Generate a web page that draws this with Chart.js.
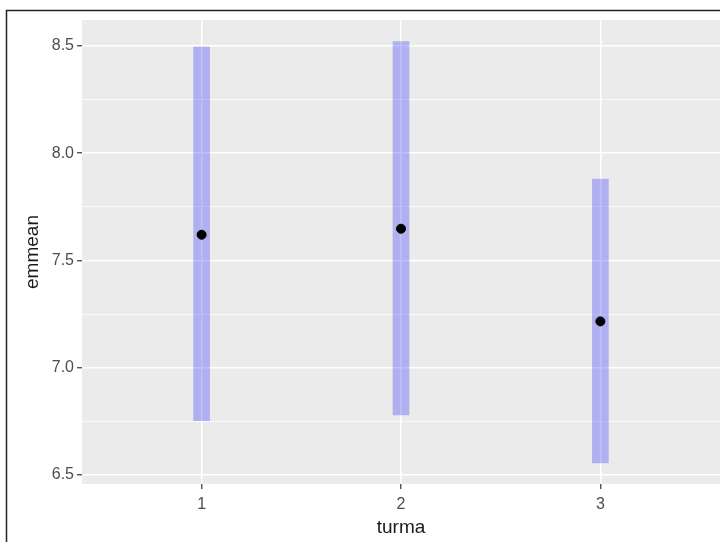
<!DOCTYPE html>
<html>
<head>
<meta charset="utf-8">
<script src="https://cdn.jsdelivr.net/npm/chart.js@4/dist/chart.umd.min.js"></script>
<style>
  html, body { margin: 0; padding: 0; background: #fff; }
  #wrap { width: 720px; height: 542px; position: relative; }
</style>
</head>
<body>
<div id="wrap"><canvas id="emmChart" width="720" height="542"></canvas></div>
<script>
// data
const turma = [1, 2, 3];
const emmean = [7.62, 7.648, 7.216];
const lowerCL = [6.753, 6.78, 6.556];
const upperCL = [8.495, 8.52, 7.879];

const yMajorTicks = [6.5, 7.0, 7.5, 8.0, 8.5];
const yMinorTicks = [6.75, 7.25, 7.75, 8.25];

// grey ggplot panel + outer frame
const panelPlugin = {
    id: "panel",
    beforeDraw(chart) {
        const { ctx, chartArea } = chart;
        ctx.save();
        ctx.fillStyle = "#EBEBEB";
        ctx.fillRect(chartArea.left, chartArea.top, chartArea.right - chartArea.left, chartArea.bottom - chartArea.top);
        ctx.restore();
    },
    afterDraw(chart) {
        const ctx = chart.ctx;
        ctx.save();
        ctx.strokeStyle = "#222";
        ctx.lineWidth = 1.5;
        ctx.beginPath();
        ctx.moveTo(6.5, 542);
        ctx.lineTo(6.5, 10.5);
        ctx.lineTo(720, 10.5);
        ctx.stroke();
        ctx.restore();
    }
};

const ctx = document.getElementById("emmChart").getContext("2d");
const emmChart = new Chart(ctx, {
    data: {
        datasets: [
            {
                type: "scatter",
                label: "emmean",
                data: turma.map((t, i) => ({ x: t, y: emmean[i] })),
                backgroundColor: "#000",
                borderColor: "#000",
                pointRadius: 4.5,
                pointHoverRadius: 4.5,
            },
            {
                type: "bar",
                label: "CL",
                data: turma.map((t, i) => ({ x: t, y: [lowerCL[i], upperCL[i]] })),
                backgroundColor: "rgba(0, 0, 255, 0.25)",
                borderWidth: 0,
                barThickness: 16,
            },
        ],
    },
    options: {
        responsive: false,
        animation: false,
        layout: { autoPadding: false, padding: { top: 20, right: 0, left: 0, bottom: 0 } },
        plugins: {
            legend: { display: false },
            tooltip: { enabled: false },
        },
        scales: {
            x: {
                type: "linear",
                min: 0.4,
                max: 3.6,
                offset: false,
                afterBuildTicks: (scale) => {
                    scale.ticks = turma.map(v => ({ value: v }));
                },
                afterFit: (scale) => { scale.height = 58; },
                grid: {
                    offset: false,
                    color: "#fff",
                    lineWidth: 1.5,
                    drawTicks: true,
                    tickLength: 5,
                    tickColor: "#333",
                    tickWidth: 1.2,
                },
                border: { display: false },
                ticks: {
                    color: "#4D4D4D",
                    font: { family: "Liberation Sans", size: 16 },
                    padding: 6,
                    callback: (v) => String(v),
                },
                title: {
                    display: true,
                    text: "turma",
                    color: "#1a1a1a",
                    font: { family: "Liberation Sans", size: 19 },
                    padding: { top: 0, bottom: 3 },
                },
            },
            y: {
                type: "linear",
                min: 6.458,
                max: 8.621,
                afterBuildTicks: (scale) => {
                    scale.ticks = yMajorTicks.concat(yMinorTicks).sort((a, b) => a - b).map(v => ({ value: v }));
                },
                afterFit: (scale) => { scale.width = 82; },
                grid: {
                    color: "#fff",
                    lineWidth: (c) => (yMajorTicks.includes(c.tick.value) ? 1.5 : 0.75),
                    drawTicks: true,
                    tickLength: 5,
                    tickColor: (c) => (yMajorTicks.includes(c.tick.value) ? "#333" : "rgba(0,0,0,0)"),
                    tickWidth: 1.2,
                },
                border: { display: false },
                ticks: {
                    color: "#4D4D4D",
                    font: { family: "Liberation Sans", size: 16 },
                    padding: 3,
                    autoSkip: false,
                    callback: (v) => (yMajorTicks.includes(v) ? v.toFixed(1) : ""),
                },
                title: {
                    display: true,
                    text: "emmean",
                    color: "#1a1a1a",
                    font: { family: "Liberation Sans", size: 19 },
                    padding: { top: 21, bottom: 0 },
                },
            },
        },
    },
    plugins: [panelPlugin],
});
</script>
</body>
</html>
